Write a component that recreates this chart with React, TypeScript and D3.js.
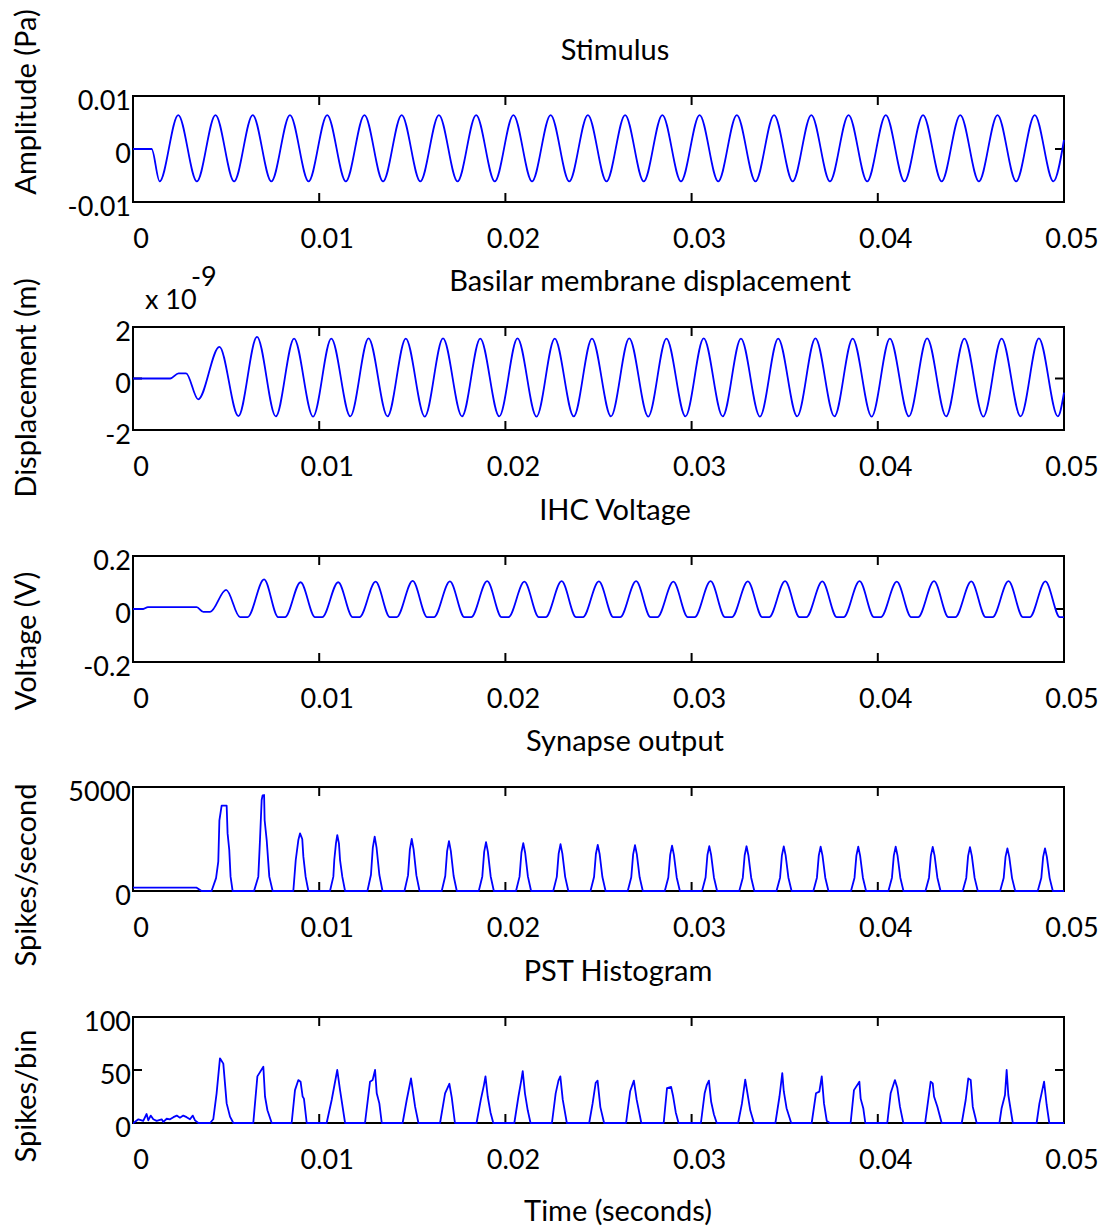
import { useRef, useEffect } from 'react';
import * as d3 from 'd3';

// time axis in ms, tick labels in seconds
const xTicks = [0, 10, 20, 30, 40, 50];
const xTickLabels = ['0', '0.01', '0.02', '0.03', '0.04', '0.05'];

// [time (ms), value]
const stimulus = [
  [0, 0], [1.0, 0], [1.43, -0.0061], [2.43, 0.0064], [3.43, -0.0061], [4.43, 0.0064], [5.43, -0.0061],
  [6.43, 0.0064], [7.43, -0.0061], [8.43, 0.0064], [9.43, -0.0061], [10.43, 0.0064], [11.43, -0.0061],
  [12.43, 0.0064], [13.43, -0.0061], [14.43, 0.0064], [15.43, -0.0061], [16.43, 0.0064], [17.43, -0.0061],
  [18.43, 0.0064], [19.43, -0.0061], [20.43, 0.0064], [21.43, -0.0061], [22.43, 0.0064], [23.43, -0.0061],
  [24.43, 0.0064], [25.43, -0.0061], [26.43, 0.0064], [27.43, -0.0061], [28.43, 0.0064], [29.43, -0.0061],
  [30.43, 0.0064], [31.43, -0.0061], [32.43, 0.0064], [33.43, -0.0061], [34.43, 0.0064], [35.43, -0.0061],
  [36.43, 0.0064], [37.43, -0.0061], [38.43, 0.0064], [39.43, -0.0061], [40.43, 0.0064], [41.43, -0.0061],
  [42.43, 0.0064], [43.43, -0.0061], [44.43, 0.0064], [45.43, -0.0061], [46.43, 0.0064], [47.43, -0.0061],
  [48.43, 0.0064], [49.43, -0.0061], [50, 0.0017],
];

// basilar membrane, units of 1e-9 m
const bmDisplacement = [
  [0, 0], [2.0, 0], [2.45, 0.2], [2.85, 0.2], [3.5, -0.81], [4.64, 1.23], [5.66, -1.46], [6.66, 1.62],
  [7.67, -1.47], [8.65, 1.55], [9.67, -1.48], [10.65, 1.55], [11.67, -1.47], [12.65, 1.56], [13.67, -1.47],
  [14.65, 1.55], [15.67, -1.48], [16.65, 1.56], [17.67, -1.47], [18.65, 1.55], [19.67, -1.47], [20.65, 1.56],
  [21.67, -1.48], [22.65, 1.55], [23.67, -1.47], [24.65, 1.55], [25.67, -1.47], [26.65, 1.56], [27.67, -1.48],
  [28.65, 1.55], [29.67, -1.47], [30.65, 1.56], [31.67, -1.47], [32.65, 1.55], [33.67, -1.48], [34.65, 1.55],
  [35.67, -1.47], [36.65, 1.56], [37.67, -1.47], [38.65, 1.55], [39.67, -1.48], [40.65, 1.55], [41.67, -1.47],
  [42.65, 1.56], [43.67, -1.47], [44.65, 1.55], [45.67, -1.48], [46.65, 1.55], [47.67, -1.47], [48.65, 1.56],
  [49.67, -1.47], [50, -0.55],
];

const ihcVoltage = [
  [0, 0], [0.55, 0], [0.8, 0.007], [3.42, 0.007], [3.78, -0.011], [4.14, -0.011], [5.0, 0.072],
  [5.75, -0.031], [6.15, -0.031], [7.04, 0.112], [7.8, -0.031], [8.16, -0.031], [9.0, 0.101],
  [9.78, -0.031], [10.16, -0.031], [11.02, 0.101], [11.8, -0.031], [12.16, -0.031], [13.03, 0.103],
  [13.8, -0.031], [14.16, -0.031], [15.02, 0.106], [15.8, -0.031], [16.16, -0.031], [17.02, 0.104],
  [17.8, -0.031], [18.16, -0.031], [19.02, 0.105], [19.8, -0.031], [20.16, -0.031], [21.02, 0.103],
  [21.8, -0.031], [22.16, -0.031], [23.02, 0.105], [23.8, -0.031], [24.16, -0.031], [25.02, 0.104],
  [25.8, -0.031], [26.16, -0.031], [27.02, 0.105], [27.8, -0.031], [28.16, -0.031], [29.02, 0.103],
  [29.8, -0.031], [30.16, -0.031], [31.02, 0.105], [31.8, -0.031], [32.16, -0.031], [33.02, 0.104],
  [33.8, -0.031], [34.16, -0.031], [35.02, 0.105], [35.8, -0.031], [36.16, -0.031], [37.02, 0.104],
  [37.8, -0.031], [38.16, -0.031], [39.02, 0.105], [39.8, -0.031], [40.16, -0.031], [41.02, 0.103],
  [41.8, -0.031], [42.16, -0.031], [43.02, 0.105], [43.8, -0.031], [44.16, -0.031], [45.02, 0.104],
  [45.8, -0.031], [46.16, -0.031], [47.02, 0.105], [47.8, -0.031], [48.16, -0.031], [49.0, 0.104],
  [49.78, -0.031], [50, -0.031],
];

const synapseRate = [
  [0, 160], [3.42, 160], [3.68, 0], [4.22, 0], [4.46, 620], [4.58, 1410], [4.64, 3400], [4.76, 4100],
  [5.03, 4100], [5.08, 2770], [5.17, 1970], [5.24, 690], [5.35, 0],
  [6.5, 0], [6.73, 690], [6.82, 2450], [6.91, 4375], [6.96, 4600], [7.04, 4615], [7.07, 3400], [7.18, 2450], [7.32, 690], [7.5, 0],
  [8.61, 0], [8.74, 1490], [8.88, 2450], [8.97, 2770], [9.09, 2500], [9.15, 1650], [9.27, 690], [9.42, 0],
  [10.58, 0], [10.76, 690], [10.81, 1490], [10.9, 2290], [10.97, 2690], [11.06, 2290], [11.12, 1490], [11.24, 690], [11.39, 0],
  [12.59, 0], [12.78, 780], [12.88, 2090], [12.98, 2610], [13.08, 2090], [13.23, 780], [13.4, 0],
  [14.58, 0], [14.77, 750], [14.87, 2000], [14.97, 2500], [15.07, 2000], [15.22, 750], [15.39, 0],
  [16.58, 0], [16.77, 720], [16.87, 1920], [16.97, 2400], [17.07, 1920], [17.22, 720], [17.39, 0],
  [18.57, 0], [18.76, 700], [18.86, 1880], [18.96, 2350], [19.06, 1880], [19.21, 700], [19.38, 0],
  [20.57, 0], [20.76, 690], [20.86, 1840], [20.96, 2300], [21.06, 1840], [21.21, 690], [21.38, 0],
  [22.57, 0], [22.76, 680], [22.86, 1800], [22.96, 2250], [23.06, 1800], [23.21, 680], [23.38, 0],
  [24.57, 0], [24.76, 670], [24.86, 1780], [24.96, 2220], [25.06, 1780], [25.21, 670], [25.38, 0],
  [26.57, 0], [26.76, 660], [26.86, 1760], [26.96, 2200], [27.06, 1760], [27.21, 660], [27.38, 0],
  [28.56, 0], [28.75, 650], [28.85, 1740], [28.95, 2180], [29.05, 1740], [29.2, 650], [29.37, 0],
  [30.56, 0], [30.75, 650], [30.85, 1730], [30.95, 2160], [31.05, 1730], [31.2, 650], [31.37, 0],
  [32.56, 0], [32.75, 640], [32.85, 1720], [32.95, 2150], [33.05, 1720], [33.2, 640], [33.37, 0],
  [34.56, 0], [34.75, 640], [34.85, 1710], [34.95, 2140], [35.05, 1710], [35.2, 640], [35.37, 0],
  [36.54, 0], [36.73, 640], [36.83, 1700], [36.93, 2130], [37.03, 1700], [37.18, 640], [37.35, 0],
  [38.56, 0], [38.75, 640], [38.85, 1700], [38.95, 2130], [39.05, 1700], [39.2, 640], [39.37, 0],
  [40.57, 0], [40.76, 640], [40.86, 1700], [40.96, 2130], [41.06, 1700], [41.21, 640], [41.38, 0],
  [42.56, 0], [42.75, 640], [42.85, 1700], [42.95, 2120], [43.05, 1700], [43.2, 640], [43.37, 0],
  [44.56, 0], [44.75, 630], [44.85, 1690], [44.95, 2110], [45.05, 1690], [45.2, 630], [45.37, 0],
  [46.57, 0], [46.76, 620], [46.86, 1640], [46.96, 2050], [47.06, 1640], [47.21, 620], [47.38, 0],
  [48.59, 0], [48.78, 620], [48.88, 1640], [48.98, 2050], [49.08, 1640], [49.23, 620], [49.4, 0],
  [50, 0],
];

const pstHist = [
  [0, 0], [0.02, 0], [0.29, 3.5], [0.55, 2], [0.73, 8.5], [0.82, 2.5], [0.95, 7], [1.09, 3.5], [1.27, 2],
  [1.54, 3.5], [1.63, 1], [1.81, 4], [1.99, 3.5], [2.17, 5.5], [2.35, 7], [2.52, 5], [2.7, 7], [2.88, 5.5],
  [3.06, 3.5], [3.21, 7], [3.33, 2.5], [3.51, 0],
  [4.14, 0], [4.31, 3.5], [4.49, 28], [4.67, 61], [4.85, 56], [5.03, 18.5], [5.21, 6], [5.39, 0],
  [6.46, 0], [6.68, 44], [7.0, 53], [7.09, 25], [7.22, 12], [7.45, 0],
  [8.52, 0], [8.7, 31], [8.88, 40.5], [9.0, 39], [9.11, 25], [9.18, 23], [9.33, 0],
  [10.4, 0], [10.67, 21.7], [10.97, 50], [11.12, 31], [11.39, 0],
  [12.46, 0], [12.73, 39], [12.87, 40.5], [13.0, 50], [13.09, 28], [13.23, 18.5], [13.36, 0],
  [14.48, 0], [14.7, 21.7], [14.93, 42], [15.15, 15.4], [15.33, 0],
  [16.49, 0], [16.76, 28], [16.99, 37], [17.12, 24], [17.29, 0],
  [18.45, 0], [18.68, 22], [18.85, 36], [18.93, 44], [19.05, 25], [19.2, 10], [19.35, 0],
  [20.48, 0], [20.7, 25], [20.85, 40], [20.93, 49], [21.05, 28], [21.2, 12], [21.35, 0],
  [22.5, 0], [22.7, 28], [22.85, 40], [22.95, 44], [23.08, 22], [23.3, 0],
  [24.5, 0], [24.68, 18], [24.85, 38], [24.95, 40], [25.1, 15], [25.3, 0],
  [26.48, 0], [26.7, 30], [26.9, 40], [27.05, 22], [27.3, 0],
  [28.5, 0], [28.68, 33], [28.9, 34], [29.0, 26], [29.15, 10], [29.3, 0],
  [30.5, 0], [30.7, 28], [30.82, 36], [30.93, 40], [31.05, 20], [31.2, 8], [31.35, 0],
  [32.5, 0], [32.7, 18], [32.88, 41], [33.0, 28], [33.15, 12], [33.35, 0],
  [34.5, 0], [34.72, 25], [34.87, 47], [34.95, 30], [35.1, 14], [35.35, 0],
  [36.45, 0], [36.68, 28], [36.86, 29.6], [36.99, 44], [37.11, 18.5], [37.26, 2], [37.43, 0],
  [38.54, 0], [38.72, 31], [39.01, 39], [39.08, 23], [39.22, 14], [39.33, 0],
  [40.51, 0], [40.69, 28], [40.92, 40.5], [41.05, 33], [41.19, 15.4], [41.37, 0],
  [42.54, 0], [42.66, 15.4], [42.84, 39], [42.95, 37.4], [43.02, 25], [43.2, 15.4], [43.43, 0],
  [44.51, 0], [44.72, 21.7], [44.86, 42], [44.99, 40.5], [45.1, 15.4], [45.31, 0],
  [46.53, 0], [46.65, 14], [46.83, 26.4], [46.92, 50], [47.01, 26.4], [47.25, 0],
  [48.53, 0], [48.68, 18.5], [48.93, 39], [49.07, 17], [49.21, 0],
  [50, 0],
];

const titles = ['Stimulus', 'Basilar membrane displacement', 'IHC Voltage', 'Synapse output', 'PST Histogram'];
const yLabels = ['Amplitude (Pa)', 'Displacement (m)', 'Voltage (V)', 'Spikes/second', 'Spikes/bin'];
const yDomains = [[-0.01, 0.01], [-2, 2], [-0.2, 0.2], [0, 5000], [0, 100]];
const yTicks = [[-0.01, 0, 0.01], [-2, 0, 2], [-0.2, 0, 0.2], [0, 5000], [0, 50, 100]];
const yTickLabels = [['-0.01', '0', '0.01'], ['-2', '0', '2'], ['-0.2', '0', '0.2'], ['0', '5000'], ['0', '50', '100']];

const series = [stimulus, bmDisplacement, ihcVoltage, synapseRate, pstHist];

export default function App() {
  const svgRef = useRef(null);
  const width = 1107, height = 1227;
  const left = 133, right = 1064;
  const font = "Lato, 'Open Sans', sans-serif";
  const fs = 27;      // tick labels
  const fsLabel = 29; // titles and axis labels
  // per-panel box and text placement
  const layout = [
    { top: 96, bottom: 202, titleX: 615, ylabelY: 102 },
    { top: 327, bottom: 430, titleX: 650, ylabelY: 388 },
    { top: 556, bottom: 662, titleX: 615, ylabelY: 641 },
    { top: 787, bottom: 891, titleX: 625, ylabelY: 875 },
    { top: 1017, bottom: 1123, titleX: 618, ylabelY: 1096 },
  ];
  const curves = [d3.curveMonotoneX, d3.curveMonotoneX, d3.curveMonotoneX, d3.curveLinear, d3.curveLinear];

  function renderChart() {
    const svg = d3.select(svgRef.current);
    svg.selectAll('*').remove();
    svg.append('rect').attr('width', width).attr('height', height).attr('fill', '#fff');

    const x = d3.scaleLinear().domain([0, 50]).range([left, right]);
    const tickLen = 9;

    series.forEach((data, i) => {
      const L = layout[i];
      const y = d3.scaleLinear().domain(yDomains[i]).range([L.bottom, L.top]);
      const g = svg.append('g');

      g.append('rect')
        .attr('x', left).attr('y', L.top)
        .attr('width', right - left).attr('height', L.bottom - L.top)
        .attr('fill', 'none').attr('stroke', '#000').attr('stroke-width', 2);

      // ticks point inward, on all four sides
      xTicks.forEach((t) => {
        g.append('line').attr('x1', x(t)).attr('x2', x(t)).attr('y1', L.bottom).attr('y2', L.bottom - tickLen)
          .attr('stroke', '#000').attr('stroke-width', 2);
        g.append('line').attr('x1', x(t)).attr('x2', x(t)).attr('y1', L.top).attr('y2', L.top + tickLen)
          .attr('stroke', '#000').attr('stroke-width', 2);
      });
      yTicks[i].forEach((v) => {
        g.append('line').attr('x1', left).attr('x2', left + tickLen).attr('y1', y(v)).attr('y2', y(v))
          .attr('stroke', '#000').attr('stroke-width', 2);
        g.append('line').attr('x1', right).attr('x2', right - tickLen).attr('y1', y(v)).attr('y2', y(v))
          .attr('stroke', '#000').attr('stroke-width', 2);
      });

      const line = d3.line()
        .x((d) => x(d[0]))
        .y((d) => y(d[1]))
        .curve(curves[i]);

      g.append('path')
        .attr('d', line(data))
        .attr('fill', 'none')
        .attr('stroke', '#0000ff')
        .attr('stroke-width', 1.8)
        .attr('stroke-linejoin', 'round');

      // tick labels
      g.selectAll('.xtl')
        .data(xTicks)
        .join('text')
        .attr('x', (t) => x(t) + 8)
        .attr('y', L.bottom + 46)
        .attr('text-anchor', 'middle')
        .attr('font-family', font).attr('font-size', fs)
        .text((t, j) => xTickLabels[j]);

      g.selectAll('.ytl')
        .data(yTicks[i])
        .join('text')
        .attr('x', 131)
        .attr('y', (v) => y(v) + 14)
        .attr('text-anchor', 'end')
        .attr('font-family', font).attr('font-size', fs)
        .text((v, j) => yTickLabels[i][j]);

      g.append('text')
        .attr('x', L.titleX).attr('y', L.top - 36)
        .attr('text-anchor', 'middle')
        .attr('font-family', font).attr('font-size', fsLabel)
        .text(titles[i]);

      g.append('text')
        .attr('transform', `translate(36,${L.ylabelY}) rotate(-90)`)
        .attr('text-anchor', 'middle')
        .attr('font-family', font).attr('font-size', fsLabel)
        .text(yLabels[i]);
    });

    // exponent for the displacement axis
    svg.append('text').attr('x', 145).attr('y', 309)
      .attr('font-family', font).attr('font-size', fs).text('x 10');
    svg.append('text').attr('x', 191).attr('y', 286)
      .attr('font-family', font).attr('font-size', fs).text('-9');

    svg.append('text')
      .attr('x', 618).attr('y', 1221)
      .attr('text-anchor', 'middle')
      .attr('font-family', font).attr('font-size', fsLabel)
      .text('Time (seconds)');
  }

  useEffect(() => {
    renderChart();
  }, []);

  return (
    <svg
      ref={svgRef}
      width={width}
      height={height}
      style={{ position: 'absolute', left: 0, top: 0, display: 'block' }}
    />
  );
}
